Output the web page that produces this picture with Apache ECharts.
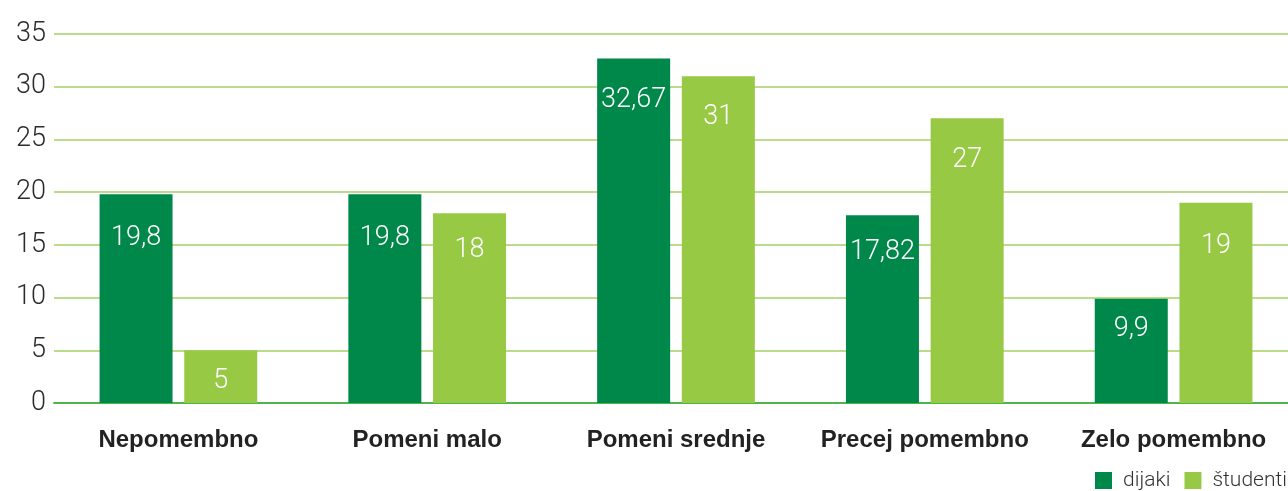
<!DOCTYPE html>
<html>
<head>
<meta charset="utf-8">
<script src="https://cdn.jsdelivr.net/npm/echarts@6/dist/echarts.min.js"></script>
<style>
    html, body { margin: 0; padding: 0; background: #fff; }
    #mainChart { width: 1288px; height: 491px; }
</style>
</head>
<body>
<div id="mainChart"></div>
<script>
const categories = ['Nepomembno', 'Pomeni malo', 'Pomeni srednje', 'Precej pomembno', 'Zelo pomembno'];
const dijaki = [19.8, 19.8, 32.67, 17.82, 9.9];
const studenti = [5, 18, 31, 27, 19];
const yTicks = [0, 5, 10, 15, 20, 25, 30, 35];

const thinFont = 'Roboto, sans-serif';

// label sits lower on tall bars, nearer the top on short ones
function barLabel(values) {
    return values.map(function (v) {
        let d = 28;
        if (v < 12) {
            d = 17;
        } else if (v < 19) {
            d = 24;
        } else if (v < 20) {
            d = 30;
        }
        return {
            value: v,
            label: { distance: d }
        };
    });
}

function commaFormat(p) {
    return String(p.value).replace('.', ',');
}

const myChart = echarts.init(document.getElementById('mainChart'));
const option = {
    animation: false,
    grid: {
        left: 54,
        width: 1244,
        top: 34,
        bottom: 88,
        outerBoundsMode: 'none'
    },
    legend: {
        left: 1090,
        top: 465,
        width: 400,
        itemWidth: 17,
        itemHeight: 17,
        itemGap: 14,
        icon: 'rect',
        textStyle: {
            fontFamily: thinFont,
            fontWeight: 300,
            fontSize: 21,
            color: '#333',
            padding: [0, 0, 0, 6]
        },
        data: ['dijaki', 'študenti']
    },
    xAxis: {
        type: 'category',
        data: categories,
        axisTick: { show: false },
        axisLine: { lineStyle: { color: '#4cb748', width: 2 } },
        axisLabel: {
            interval: 0,
            margin: 25,
            fontFamily: '"Liberation Sans", Arial, sans-serif',
            fontWeight: 'bold',
            fontSize: 24,
            color: '#222'
        }
    },
    yAxis: {
        type: 'value',
        min: yTicks[0],
        max: yTicks[yTicks.length - 1],
        interval: 5,
        axisLine: { show: false },
        axisTick: { show: false },
        splitLine: { lineStyle: { color: '#a3d165', width: 1.5 } },
        axisLabel: {
            margin: 8,
            fontFamily: thinFont,
            fontWeight: 300,
            fontSize: 27,
            color: '#2b2b2b'
        }
    },
    series: [
        {
            name: 'dijaki',
            type: 'bar',
            barWidth: 73,
            barGap: '16%',
            itemStyle: { color: '#00874a' },
            label: {
                show: true,
                position: 'insideTop',
                color: '#fff',
                fontFamily: thinFont,
                fontWeight: 300,
                fontSize: 27,
                formatter: commaFormat
            },
            data: barLabel(dijaki)
        },
        {
            name: 'študenti',
            type: 'bar',
            barWidth: 73,
            barGap: '16%',
            itemStyle: { color: '#98c944' },
            label: {
                show: true,
                position: 'insideTop',
                color: '#fff',
                fontFamily: thinFont,
                fontWeight: 300,
                fontSize: 27,
                formatter: commaFormat
            },
            data: barLabel(studenti)
        }
    ]
};
myChart.setOption(option);
</script>
</body>
</html>
